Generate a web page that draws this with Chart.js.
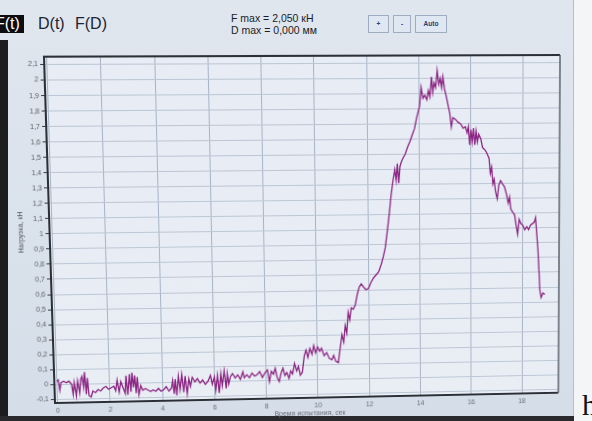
<!DOCTYPE html>
<html lang="ru">
<head>
<meta charset="utf-8">
<script src="https://cdn.jsdelivr.net/npm/chart.js@4.4.1/dist/chart.umd.min.js"></script>
<style>
  html, body { margin: 0; padding: 0; }
  body { width: 592px; height: 421px; position: relative; overflow: hidden; background: #f4f5f6; font-family: "Liberation Sans", Arial, sans-serif; }
  #screen { position: absolute; left: 0; top: 0; width: 573px; height: 417px;
            background: linear-gradient(180deg, #e0e6ee 0%, #dae2ec 50%, #d5dde8 100%);
            border-right: 1px solid #b9bec5; }
  #bezelLeft { position: absolute; left: 0; top: 40px; width: 8px; height: 381px; background: #1d1d20; }
  #bezelBottom { position: absolute; left: 0; top: 416px; width: 574px; height: 5px; background: #2a2a2e; }
  #chartCanvas { position: absolute; left: 0; top: 0; transform-origin: 0 0; }
  .tab { position: absolute; top: 15px; font-size: 16px; line-height: 18px; color: #1c2433; }
  #tabFt { left: -5px; padding: 0 4px 0 0; background: #0d0d10; color: #ffffff; }
  #tabDt { left: 38px; }
  #tabFD { left: 75px; }
  .stat { position: absolute; left: 231px; font-size: 10.5px; color: #1a1d26; white-space: nowrap; }
  .btn { position: absolute; top: 15px; height: 16px; border: 1px solid #9eabc0; background: #dfe7f2;
         font-size: 6.5px; font-weight: bold; color: #22407a; text-align: center; line-height: 16px; }
  #letterH { position: absolute; left: 582px; top: 388px; font-family: "Liberation Serif", serif; font-size: 30px; color: #111; }
</style>
</head>
<body>
<div id="screen"></div>
<div id="bezelLeft"></div>
<div id="bezelBottom"></div>

<div class="tab" id="tabFt">F(t)</div>
<div class="tab" id="tabDt">D(t)</div>
<div class="tab" id="tabFD">F(D)</div>
<div class="stat" style="top:12px">F max = 2,050 кН</div>
<div class="stat" style="top:24px">D max = 0,000 мм</div>
<div class="btn" style="left:368px; width:19px;">+</div>
<div class="btn" style="left:393px; width:16px;">-</div>
<div class="btn" style="left:415px; width:30px;">Auto</div>
<div id="letterH">h</div>

<canvas id="chartCanvas" width="592" height="421"></canvas>

<script>
// Load vs. time record of the test (seconds, kN)
const timeSec = [
  0.00, 0.05, 0.10, 0.15, 0.25, 0.35, 0.45, 0.55, 0.60, 0.65, 0.72, 0.78, 0.85, 0.90, 0.95, 1.00,
  1.05, 1.10, 1.15, 1.20, 1.28, 1.35, 1.45, 1.55, 1.65, 1.75, 1.85, 1.95, 2.05, 2.15, 2.22, 2.28,
  2.35, 2.42, 2.50, 2.58, 2.62, 2.68, 2.75, 2.80, 2.85, 2.90, 2.95, 3.00, 3.05, 3.10, 3.18, 3.25,
  3.35, 3.45, 3.55, 3.65, 3.75, 3.85, 3.95, 4.05, 4.15, 4.25, 4.35, 4.40, 4.45, 4.50, 4.55, 4.62,
  4.68, 4.75, 4.82, 4.88, 4.95, 5.02, 5.08, 5.15, 5.25, 5.35, 5.45, 5.55, 5.65, 5.75, 5.85, 5.92,
  6.00, 6.05, 6.12, 6.18, 6.25, 6.30, 6.38, 6.45, 6.50, 6.55, 6.62, 6.70, 6.80, 6.90, 7.00, 7.10,
  7.15, 7.25, 7.35, 7.45, 7.55, 7.65, 7.75, 7.85, 7.95, 8.05, 8.12, 8.20, 8.28, 8.35, 8.42, 8.50,
  8.58, 8.65, 8.72, 8.80, 8.88, 8.95, 9.02, 9.10, 9.18, 9.25, 9.32, 9.40, 9.48, 9.55, 9.62, 9.70,
  9.78, 9.85, 9.92, 10.00, 10.08, 10.15, 10.25, 10.35, 10.45, 10.55, 10.62, 10.70, 10.80, 10.87, 10.95, 11.02,
  11.08, 11.14, 11.20, 11.26, 11.32, 11.40, 11.48, 11.56, 11.64, 11.72, 11.80, 11.90, 12.00, 12.10, 12.20, 12.30,
  12.40, 12.50, 12.58, 12.66, 12.75, 12.82, 12.90, 12.98, 13.05, 13.10, 13.15, 13.20, 13.25, 13.30, 13.38, 13.45,
  13.55, 13.65, 13.75, 13.82, 13.90, 13.96, 14.02, 14.08, 14.15, 14.22, 14.30, 14.36, 14.42, 14.48, 14.53, 14.58,
  14.64, 14.70, 14.76, 14.82, 14.87, 14.92, 14.98, 15.05, 15.12, 15.18, 15.24, 15.30, 15.40, 15.50, 15.60, 15.70,
  15.78, 15.85, 15.90, 15.95, 16.00, 16.05, 16.10, 16.15, 16.20, 16.25, 16.30, 16.38, 16.45, 16.52, 16.60, 16.65,
  16.70, 16.75, 16.80, 16.85, 16.90, 16.95, 17.02, 17.08, 17.15, 17.22, 17.30, 17.38, 17.45, 17.50, 17.55, 17.62,
  17.70, 17.76, 17.82, 17.88, 17.95, 18.02, 18.10, 18.18, 18.25, 18.32, 18.40, 18.47, 18.52, 18.57, 18.62, 18.66,
  18.70, 18.75, 18.82, 18.90
];
const loadKN = [
  0.02, 0.03, -0.04, 0.01, 0.02, 0.01, 0.02, 0.00, -0.07, 0.01, -0.08, 0.02, -0.06, 0.03, 0.05, -0.02,
  0.08, -0.07, 0.04, -0.08, -0.09, -0.05, -0.06, -0.04, -0.05, -0.03, -0.02, -0.04, -0.03, -0.02, -0.05, 0.02,
  -0.06, 0.01, -0.03, -0.07, 0.05, -0.08, 0.06, -0.06, 0.07, -0.03, 0.05, -0.07, 0.04, -0.08, -0.02, -0.05,
  -0.04, -0.05, -0.06, -0.05, -0.06, -0.04, -0.06, -0.05, -0.03, -0.06, -0.04, 0.01, -0.08, 0.02, -0.09, 0.04,
  -0.05, 0.05, -0.07, 0.04, -0.08, 0.02, -0.03, 0.03, 0.00, 0.02, -0.01, 0.01, -0.02, 0.00, 0.04, -0.02,
  0.03, -0.06, 0.04, -0.08, 0.05, -0.03, 0.07, -0.05, 0.05, -0.02, 0.03, 0.05, 0.02, 0.04, 0.01, 0.06,
  0.02, 0.04, 0.02, 0.05, 0.03, 0.04, 0.06, 0.02, 0.05, 0.07, -0.01, 0.06, 0.04, 0.08, 0.02, -0.01,
  0.05, 0.08, 0.03, 0.05, 0.01, 0.06, 0.04, 0.11, 0.06, 0.09, 0.03, 0.05, 0.16, 0.20, 0.15, 0.21,
  0.17, 0.23, 0.18, 0.22, 0.19, 0.21, 0.16, 0.18, 0.14, 0.13, 0.16, 0.12, 0.11, 0.20, 0.30, 0.25,
  0.36, 0.31, 0.45, 0.40, 0.48, 0.47, 0.50, 0.57, 0.62, 0.64, 0.62, 0.60, 0.61, 0.65, 0.68, 0.70,
  0.72, 0.77, 0.82, 0.88, 1.00, 1.10, 1.23, 1.33, 1.40, 1.33, 1.44, 1.31, 1.42, 1.45, 1.48, 1.50,
  1.55, 1.59, 1.64, 1.67, 1.74, 1.78, 1.82, 1.94, 1.87, 1.89, 1.86, 1.92, 1.88, 2.01, 1.91, 1.97,
  1.94, 2.05, 1.96, 2.00, 1.94, 2.01, 1.93, 1.88, 1.82, 1.77, 1.68, 1.74, 1.73, 1.71, 1.70, 1.67,
  1.68, 1.64, 1.68, 1.56, 1.66, 1.58, 1.67, 1.56, 1.65, 1.58, 1.63, 1.60, 1.54, 1.53, 1.51, 1.49,
  1.47, 1.37, 1.41, 1.30, 1.33, 1.25, 1.20, 1.29, 1.32, 1.30, 1.28, 1.23, 1.17, 1.21, 1.13, 1.11,
  1.09, 1.02, 0.96, 1.06, 1.03, 1.02, 0.99, 1.01, 0.99, 1.02, 1.03, 1.04, 1.07, 0.96, 0.85, 0.72,
  0.58, 0.53, 0.56, 0.55
];

// Axis ticks
const xTickValues = [0, 2, 4, 6, 8, 10, 12, 14, 16, 18];
const yTickValues = [-0.1, 0, 0.1, 0.2, 0.3, 0.4, 0.5, 0.6, 0.7, 0.8, 0.9, 1, 1.1, 1.2, 1.3, 1.4, 1.5, 1.6, 1.7, 1.8, 1.9, 2, 2.1];
const yTickLabels = ['-0,1', '0', '0,1', '0,2', '0,3', '0,4', '0,5', '0,6', '0,7', '0,8', '0,9', '1', '1,1', '1,2', '1,3', '1,4', '1,5', '1,6', '1,7', '1,8', '1,9', '2', '2,1'];

const points = timeSec.map((t, i) => ({ x: t, y: loadKN[i] }));
const tickFont = { family: "'Liberation Sans', Arial, sans-serif", size: 7 };

// plot panel background and frame
const framePlugin = {
  id: 'frame',
  beforeDraw(chart) {
    const { ctx, chartArea: a } = chart;
    const g = ctx.createLinearGradient(0, a.top, 0, a.bottom);
    g.addColorStop(0, '#e7ecf5');
    g.addColorStop(1, '#e9eef5');
    ctx.save();
    ctx.fillStyle = g;
    ctx.fillRect(a.left, a.top, a.right - a.left, a.bottom - a.top);
    ctx.restore();
  },
  afterDatasetsDraw(chart) {
    const { ctx, chartArea: a } = chart;
    ctx.save();
    ctx.lineWidth = 2;
    ctx.strokeStyle = '#2b2f36';
    ctx.beginPath();
    ctx.moveTo(a.right, a.top);
    ctx.lineTo(a.left, a.top);
    ctx.lineTo(a.left, a.bottom);
    ctx.lineTo(a.right, a.bottom);
    ctx.stroke();
    ctx.strokeStyle = '#5a616c';
    ctx.lineWidth = 1.5;
    ctx.beginPath();
    ctx.moveTo(a.right, a.top);
    ctx.lineTo(a.right, a.bottom);
    ctx.stroke();
    ctx.restore();
  }
};

const chart = new Chart(document.getElementById('chartCanvas'), {
  type: 'line',
  data: {
    datasets: [{
      data: points,
      borderColor: '#8c2482',
      borderWidth: 1.3,
      pointRadius: 0,
      tension: 0,
      fill: false
    }]
  },
  options: {
    responsive: false,
    animation: false,
    devicePixelRatio: 1,
    layout: { padding: { left: 0, top: 56, right: 33, bottom: 0 } },
    plugins: { legend: { display: false }, tooltip: { enabled: false } },
    scales: {
      x: {
        type: 'linear',
        min: -0.1,
        max: 19.45,
        afterBuildTicks: s => { s.ticks = xTickValues.map(v => ({ value: v })); },
        afterFit: s => { s.height = 23; },
        ticks: { font: tickFont, color: '#6a6f78', padding: 4, maxRotation: 0, autoSkip: false,
                 callback: v => String(v) },
        grid: { color: '#a7b4c6', lineWidth: 1, tickLength: 0, drawTicks: false },
        border: { display: false },
        title: { display: true, text: 'Время испытания, сек', font: tickFont, color: '#6a6f78',
                 padding: { top: 3, bottom: 3 } }
      },
      y: {
        type: 'linear',
        min: -0.125,
        max: 2.15,
        afterBuildTicks: s => { s.ticks = yTickValues.map(v => ({ value: v })); },
        afterFit: s => { s.width = 48; },
        ticks: { font: tickFont, color: '#5d626b', padding: 2, autoSkip: false,
                 callback: (v, i) => yTickLabels[i] },
        grid: { color: '#bcc6d4', lineWidth: 1, tickLength: 4, tickColor: '#3a3e45', tickWidth: 1 },
        border: { display: false },
        title: { display: true, text: 'Нагрузка, кН', font: tickFont, color: '#4d525b',
                 padding: { top: 16, bottom: 16 } }
      }
    }
  },
  plugins: [framePlugin]
});

// Lay the flat chart onto the slanted screen: map the plot rectangle to its four corners
function solve(A, b) {
  const n = b.length;
  for (let c = 0; c < n; c++) {
    let p = c;
    for (let r = c + 1; r < n; r++) if (Math.abs(A[r][c]) > Math.abs(A[p][c])) p = r;
    [A[c], A[p]] = [A[p], A[c]]; [b[c], b[p]] = [b[p], b[c]];
    for (let r = c + 1; r < n; r++) {
      const f = A[r][c] / A[c][c];
      for (let k = c; k < n; k++) A[r][k] -= f * A[c][k];
      b[r] -= f * b[c];
    }
  }
  const x = new Array(n).fill(0);
  for (let r = n - 1; r >= 0; r--) {
    let s = b[r];
    for (let k = r + 1; k < n; k++) s -= A[r][k] * x[k];
    x[r] = s / A[r][r];
  }
  return x;
}
function homography(src, dst) {
  const A = [], b = [];
  for (let i = 0; i < 4; i++) {
    const [x, y] = src[i], [u, v] = dst[i];
    A.push([x, y, 1, 0, 0, 0, -x * u, -y * u]); b.push(u);
    A.push([0, 0, 0, x, y, 1, -x * v, -y * v]); b.push(v);
  }
  const h = solve(A, b);
  return [h[0], h[3], 0, h[6], h[1], h[4], 0, h[7], 0, 0, 1, 0, h[2], h[5], 0, 1];
}
const a = chart.chartArea;
const src = [[a.left, a.top], [a.right, a.top], [a.right, a.bottom], [a.left, a.bottom]];
const dst = [[44, 56.7], [560, 55], [558.3, 392.7], [55, 403]];
document.getElementById('chartCanvas').style.transform = 'matrix3d(' + homography(src, dst).join(',') + ')';
</script>
</body>
</html>
